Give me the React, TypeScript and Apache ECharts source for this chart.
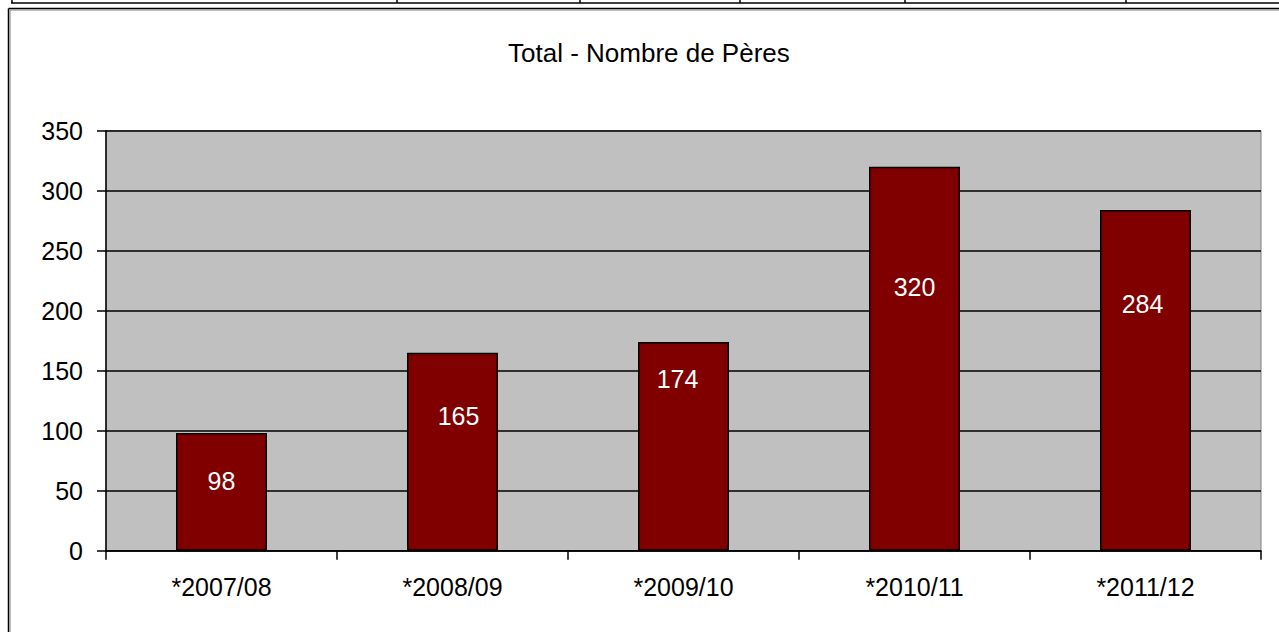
import React, { useEffect, useRef } from "react";
import * as echarts from "echarts";

const categories = ["*2007/08", "*2008/09", "*2009/10", "*2010/11", "*2011/12"];
const values = [98, 165, 174, 320, 284];
const labelOffsets: [number, number][] = [
  [0, -11],
  [6, -36],
  [-6, -67],
  [0, -72],
  [-3, -76],
];
const titleText = "Total - Nombre de Pères";
const tableColumnEdges = [12, 397, 580, 740, 905, 1126];

const FONT = "'Liberation Sans', Arial, sans-serif";

export default function App() {
  const ref = useRef<HTMLDivElement>(null);
  useEffect(() => {
    if (!ref.current) return;
    const chart = echarts.init(ref.current, undefined, { renderer: "svg" });
    const graphics: any[] = [
      { type: "line", shape: { x1: 11, y1: 3, x2: 1279, y2: 3 }, style: { stroke: "#000", lineWidth: 1.5 } },
      ...tableColumnEdges.map((x) => ({
        type: "line",
        shape: { x1: x, y1: 0, x2: x, y2: 3 },
        style: { stroke: "#000", lineWidth: 1.5 },
      })),
      { type: "line", shape: { x1: 8.5, y1: 8.5, x2: 1279, y2: 8.5 }, style: { stroke: "#000", lineWidth: 1.5 } },
      { type: "line", shape: { x1: 8.5, y1: 8.5, x2: 8.5, y2: 632 }, style: { stroke: "#000", lineWidth: 1.5 } },
      { type: "line", shape: { x1: 10, y1: 10, x2: 1279, y2: 10 }, style: { stroke: "#808080", lineWidth: 1 } },
      { type: "line", shape: { x1: 10, y1: 10, x2: 10, y2: 632 }, style: { stroke: "#808080", lineWidth: 1 } },
    ];
    chart.setOption({
      animation: false,
      backgroundColor: "#fff",
      title: {
        text: titleText,
        left: 508,
        top: 40,
        padding: 0,
        textStyle: { fontFamily: FONT, fontSize: 26, fontWeight: "normal", color: "#000" },
      },
      grid: {
        left: 106,
        top: 130.7,
        right: 18,
        height: 420,
        show: true,
        backgroundColor: "#c0c0c0",
        borderColor: "#808080",
        borderWidth: 1,
      },
      xAxis: {
        type: "category",
        data: categories,
        axisLine: { lineStyle: { color: "#000", width: 1.5 } },
        axisTick: { show: true, length: 9, lineStyle: { color: "#000", width: 1.5 } },
        axisLabel: { fontFamily: FONT, fontSize: 25, color: "#000", margin: 24 },
      },
      yAxis: {
        type: "value",
        min: 0,
        max: 350,
        interval: 50,
        axisLine: { show: true, lineStyle: { color: "#000", width: 1.5 } },
        axisTick: { show: true, length: 9, lineStyle: { color: "#000", width: 1.5 } },
        axisLabel: { fontFamily: FONT, fontSize: 25, color: "#000", margin: 23 },
        splitLine: { show: true, lineStyle: { color: "#000", width: 1.5 } },
      },
      series: [
        {
          type: "bar",
          barWidth: 91,
          data: values.map((v, i) => ({
            value: v,
            label: { offset: labelOffsets[i] },
          })),
          itemStyle: { color: "#800000", borderColor: "#000", borderWidth: 1.5 },
          label: {
            show: true,
            position: "inside",
            fontFamily: FONT,
            fontSize: 25,
            color: "#fff",
          },
        },
      ],
      graphic: graphics,
    });
    return () => chart.dispose();
  }, []);
  return (
    <div
      ref={ref}
      style={{ position: "fixed", left: 0, top: 0, width: 1279, height: 632, background: "#fff" }}
    />
  );
}
